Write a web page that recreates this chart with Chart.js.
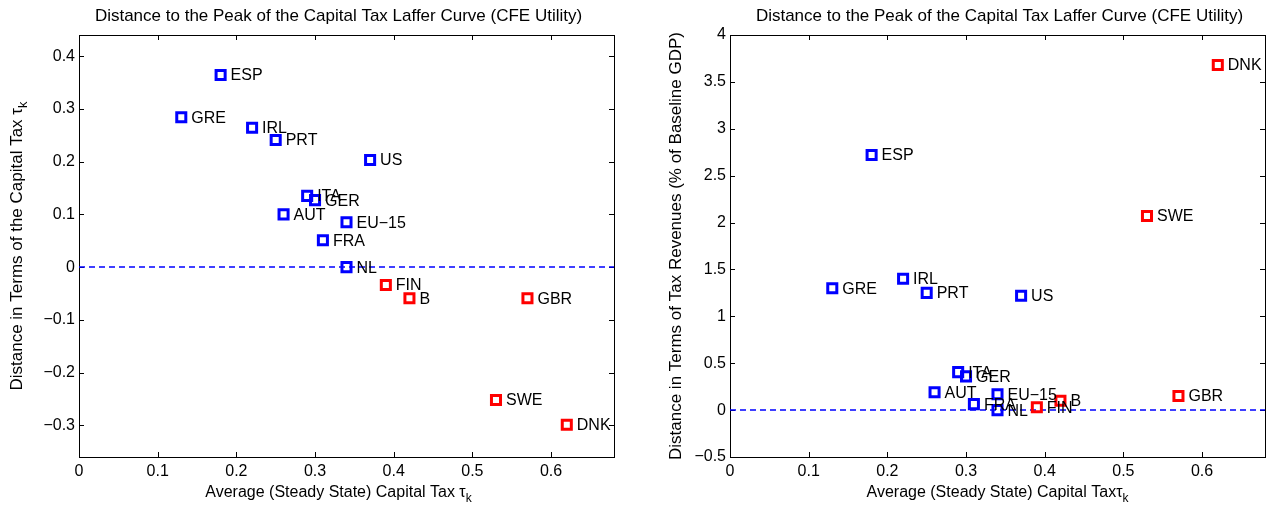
<!DOCTYPE html>
<html>
<head>
<meta charset="utf-8">
<script src="https://cdn.jsdelivr.net/npm/chart.js@4/dist/chart.umd.min.js"></script>
<style>
  body { margin: 0; background: #fff; }
  .box { position: absolute; top: 0; height: 507px; }
</style>
</head>
<body>
<div class="box" style="left:0;width:640px"><canvas id="left" width="640" height="507"></canvas></div>
<div class="box" style="left:640px;width:639px"><canvas id="right" width="639" height="507"></canvas></div>
<script>
// countries and the values
const countries = ['ESP', 'GRE', 'IRL', 'PRT', 'US', 'ITA', 'GER', 'AUT', 'EU\u221215', 'FRA', 'NL', 'FIN', 'B', 'GBR', 'SWE', 'DNK'];
const capitalTax = [0.18, 0.13, 0.22, 0.25, 0.37, 0.29, 0.30, 0.26, 0.34, 0.31, 0.34, 0.39, 0.42, 0.57, 0.53, 0.62];
const distTaxRate = [0.364, 0.284, 0.264, 0.241, 0.203, 0.135, 0.127, 0.100, 0.085, 0.051, 0.000, -0.034, -0.059, -0.059, -0.252, -0.299];
const distRevenue = [2.72, 1.30, 1.40, 1.25, 1.22, 0.405, 0.36, 0.19, 0.17, 0.064, 0.0, 0.03, 0.10, 0.15, 2.07, 3.68];
const pastPeak = ['FIN', 'B', 'GBR', 'SWE', 'DNK'];
const xRange = [0, 0.68];
const xTicks = [0, 0.1, 0.2, 0.3, 0.4, 0.5, 0.6];
const leftYRange = [-0.36, 0.44];
const leftYTicks = [-0.3, -0.2, -0.1, 0, 0.1, 0.2, 0.3, 0.4];
const rightYRange = [-0.5, 4];
const rightYTicks = [-0.5, 0, 0.5, 1, 1.5, 2, 2.5, 3, 3.5, 4];

const FONT = '"Liberation Sans", Arial, Helvetica, sans-serif';

function tickText(v) {
  return String(Math.round(v * 100) / 100).replace('-', '\u2212');
}

// draw text made of pieces, some of them subscript, centred on x
function richText(ctx, parts, x, y, size) {
  const subSize = Math.round(size * 0.75);
  let w = 0;
  parts.forEach(p => {
    ctx.font = (p.sub ? subSize : size) + 'px ' + FONT;
    p.w = ctx.measureText(p.t).width;
    w += p.w;
  });
  let cx = x - w / 2;
  ctx.textAlign = 'left';
  ctx.textBaseline = 'alphabetic';
  parts.forEach(p => {
    ctx.font = (p.sub ? subSize : size) + 'px ' + FONT;
    ctx.fillText(p.t, cx, p.sub ? y + 5 : y);
    cx += p.w;
  });
}

const frame = {
  id: 'frame',
  beforeDatasetsDraw(chart) {
    const {ctx, chartArea: a, scales: {x, y}} = chart;
    ctx.save();
    ctx.strokeStyle = '#000';
    ctx.lineWidth = 1;
    ctx.strokeRect(a.left + 0.5, a.top + 0.5, a.right - a.left, a.bottom - a.top);
    ctx.beginPath();
    x.ticks.forEach(t => {
      const px = Math.round(x.getPixelForValue(t.value)) + 0.5;
      ctx.moveTo(px, a.bottom); ctx.lineTo(px, a.bottom - 5);
      ctx.moveTo(px, a.top); ctx.lineTo(px, a.top + 5);
    });
    y.ticks.forEach(t => {
      const py = Math.round(y.getPixelForValue(t.value)) + 0.5;
      ctx.moveTo(a.left, py); ctx.lineTo(a.left + 5, py);
      ctx.moveTo(a.right, py); ctx.lineTo(a.right - 5, py);
    });
    ctx.stroke();
    ctx.restore();
  },
  afterDatasetsDraw(chart, args, opts) {
    const {ctx, chartArea: a, scales: {x, y}} = chart;
    ctx.save();
    ctx.fillStyle = '#000';
    // country labels
    ctx.font = '16px ' + FONT;
    ctx.textAlign = 'left';
    ctx.textBaseline = 'middle';
    chart.data.datasets.forEach(ds => {
      if (!ds.marker) return;
      ds.data.forEach(p => {
        ctx.fillText(p.label, x.getPixelForValue(p.x) + 10, y.getPixelForValue(p.y) + 1);
      });
    });
    // title
    ctx.font = '17px ' + FONT;
    ctx.textAlign = 'center';
    ctx.textBaseline = 'alphabetic';
    ctx.fillText(opts.title, (a.left + a.right) / 2 + opts.titleShift, 21);
    // x title
    richText(ctx, opts.xTitle, (a.left + a.right) / 2 + opts.xTitleShift, 497, 16);
    // y title
    ctx.translate(opts.yTitleX, (a.top + a.bottom) / 2);
    ctx.rotate(-Math.PI / 2);
    richText(ctx, opts.yTitle, 0, 0, 17);
    ctx.restore();
  }
};

function makeChart(id, yValues, yRange, yTicks, axisWidth, padRight, decor) {
  const blue = [], red = [];
  countries.forEach((c, i) => {
    const p = {x: capitalTax[i], y: yValues[i], label: c};
    (pastPeak.includes(c) ? red : blue).push(p);
  });
  const marker = color => ({
    pointStyle: 'rect', pointRadius: 6.4, pointBorderWidth: 3,
    borderColor: color, backgroundColor: 'rgba(0,0,0,0)'
  });
  return new Chart(document.getElementById(id), {
    type: 'scatter',
    data: {
      datasets: [
        Object.assign({data: blue, marker: true}, marker('#0000ff')),
        Object.assign({data: red, marker: true}, marker('#ff0000')),
        {
          type: 'line', data: [{x: xRange[0], y: 0}, {x: xRange[1], y: 0}],
          borderColor: '#0000ff', borderWidth: 1.5, borderDash: [6, 4],
          pointRadius: 0, fill: false
        }
      ]
    },
    options: {
      responsive: false,
      animation: false,
      events: [],
      layout: {padding: {top: 35, right: padRight, left: 0, bottom: 0}},
      scales: {
        x: {
          type: 'linear', min: xRange[0], max: xRange[1],
          grid: {display: false, drawTicks: false},
          border: {display: false},
          afterBuildTicks: s => { s.ticks = xTicks.map(v => ({value: v})); },
          afterFit: s => { s.height = 50; },
          ticks: {padding: 5, color: '#000', font: {family: FONT, size: 16},
                  callback: tickText, maxRotation: 0, autoSkip: false}
        },
        y: {
          type: 'linear', min: yRange[0], max: yRange[1],
          grid: {display: false, drawTicks: false},
          border: {display: false},
          afterBuildTicks: s => { s.ticks = yTicks.map(v => ({value: v})); },
          afterFit: s => { s.width = axisWidth; },
          ticks: {padding: 4, color: '#000', font: {family: FONT, size: 16},
                  callback: tickText, autoSkip: false}
        }
      },
      plugins: {legend: {display: false}, tooltip: {enabled: false}, frame: decor}
    },
    plugins: [frame]
  });
}

const title = 'Distance to the Peak of the Capital Tax Laffer Curve (CFE Utility)';

makeChart('left', distTaxRate, leftYRange, leftYTicks, 79, 26, {
  title: title,
  titleShift: -8,
  xTitle: [{t: 'Average (Steady State) Capital Tax \u03c4'}, {t: 'k', sub: true}],
  xTitleShift: -8,
  yTitle: [{t: 'Distance in Terms of the Capital Tax \u03c4'}, {t: 'k', sub: true}],
  yTitleX: 22
});

makeChart('right', distRevenue, rightYRange, rightYTicks, 90, 14, {
  title: title,
  titleShift: 2,
  xTitle: [{t: 'Average (Steady State) Capital Tax\u03c4'}, {t: 'k', sub: true}],
  xTitleShift: 0,
  yTitle: [{t: 'Distance in Terms of Tax Revenues (% of Baseline GDP)'}],
  yTitleX: 41
});
</script>
</body>
</html>
